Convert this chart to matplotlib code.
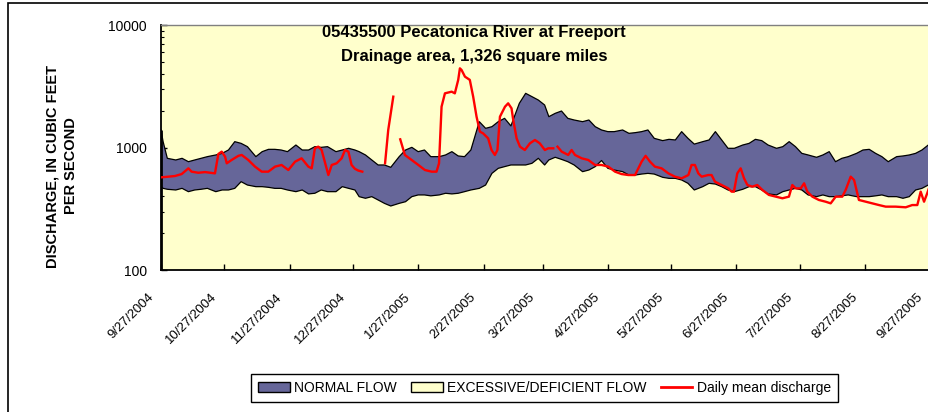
import datetime
import numpy as np
import matplotlib
matplotlib.use("Agg")
import matplotlib.pyplot as plt
from matplotlib.patches import Patch, Rectangle
from matplotlib.lines import Line2D
from matplotlib.ticker import LogLocator, NullFormatter
from matplotlib.transforms import ScaledTranslation

plt.rcParams['font.family'] = ['Liberation Sans', 'DejaVu Sans']

# ---- data (days counted from 9/27/2004, discharge in cfs) ----
start = datetime.date(2004, 9, 27)

band_days = [0, 1, 3, 7, 10, 13, 16, 19, 22, 26, 29, 32, 35, 38, 41, 45, 48, 51, 54, 57,
             60, 64, 67, 70, 73, 76, 79, 83, 86, 89, 92,
             94, 97, 100, 103, 106, 109, 113, 116, 119, 122, 125, 128, 132, 135, 138, 141,
             144, 147, 151, 154, 157, 160, 163, 166, 170, 173, 176, 179, 182,
             184, 187, 190, 193, 196, 200, 203, 206, 209, 212, 215, 219, 222, 225, 228, 231,
             234, 238, 241, 244, 247, 250, 253, 257, 260, 263, 266, 269, 272,
             276, 279, 282, 285, 288, 292, 295, 298, 301, 304, 307, 311, 314, 317, 320, 323,
             326, 330, 333, 336, 339, 342, 345, 349, 352, 355, 358, 361, 364, 368]

band_upper = [1390, 1116, 816, 791, 816, 766, 791, 816, 842, 869, 896, 954, 1116, 1081, 1016,
              842, 925, 966, 966, 954, 925, 1048, 954, 954, 1016, 1003, 1016, 925, 954, 985, 954,
              925, 869, 791, 720, 720, 689, 842, 954, 1003, 925, 954, 842, 842, 869, 925, 853,
              842, 954, 1625, 1434, 1479, 1625, 1730, 1500, 2294, 2768, 2600, 2441, 2223,
              1785, 1900, 1985, 1730, 1677, 1625, 1677, 1479, 1390, 1347, 1347, 1390, 1305, 1322,
              1347, 1390, 1188, 1138, 1166, 1152, 1347, 1188, 1066, 1116, 1152, 1347, 1152, 985, 985,
              1048, 1081, 1166, 1138, 1048, 985, 1016, 1116, 1016, 896, 869, 832, 869, 925, 766,
              816, 842, 896, 954, 966, 896, 842, 766, 842, 853, 869, 896, 954, 1048, 1100]

band_lower = [479, 464, 456, 450, 464, 436, 450, 456, 464, 436, 450, 450, 464, 526, 494, 479,
              479, 473, 464, 464, 450, 436, 450, 418, 423, 450, 436, 436, 479, 464, 450,
              397, 385, 397, 373, 350, 333, 350, 361, 397, 410, 410, 403, 410, 423, 418, 423,
              436, 450, 464, 494, 615, 676, 698, 720, 720, 720, 743, 816, 720,
              791, 832, 800, 766, 720, 635, 655, 698, 783, 676, 655, 635, 596, 596, 607, 615,
              607, 571, 560, 560, 543, 510, 450, 479, 510, 503, 479, 450, 436,
              456, 479, 479, 450, 418, 410, 436, 450, 464, 450, 410, 397, 410, 397, 397, 403,
              410, 397, 397, 397, 403, 410, 397, 397, 385, 397, 450, 464, 494, 500]

flow_days = [0.3, 3.4, 6.6, 9.8, 13.0, 14.5, 17.7, 20.9, 25.6, 27.2, 28.8, 30.4, 31.2, 33.5,
             36.7, 38.3, 41.4, 44.6, 47.8, 50.9, 54.1, 57.2, 60.4, 63.6, 66.7, 69.9, 71.5, 73.0,
             74.6, 76.2, 79.4, 81.0, 83.3, 85.7, 87.3, 88.9, 90.4, 92.0, 93.6, 95.5,
             100.0,
             106.3, 107.8, 110.2,
             112.0,
             113.5, 115.7, 118.9, 122.1, 125.2, 128.4, 130.7, 131.9, 133.1, 134.7, 137.9, 139.4,
             141.0, 141.8, 142.6, 144.2, 146.5, 148.1, 149.7, 151.3, 152.8, 155.2, 156.8, 158.4,
             159.6, 160.8, 163.2, 164.7, 166.3, 167.1, 168.7, 170.3, 172.6, 175.0, 177.4, 179.7,
             182.1, 183.7, 186.1,
             187.0,
             188.1, 190.1, 193.2, 194.8, 196.4, 199.6, 202.7, 205.9, 209.0, 212.2, 215.4, 218.5,
             221.7, 224.9, 228.0, 229.9, 232.0, 234.3, 237.5, 240.7, 243.8, 247.0, 250.2, 251.7,
             253.3, 254.9, 256.5, 259.6, 261.2, 262.8, 266.0, 269.1, 270.7, 271.8, 273.4, 275.0,
             276.6, 278.2, 280.5, 282.9, 285.3, 288.4, 291.6, 294.8, 297.9, 299.5, 301.1, 303.5,
             305.1, 306.6, 309.0, 312.1, 315.3, 317.7, 320.1, 323.2, 324.8, 327.2, 328.8, 330.3,
             331.1, 334.3, 337.5, 340.6, 343.8, 348.5, 353.3, 356.4, 358.8, 360.4, 362.0, 363.5,
             364.3, 367.0]

flow_values = [571, 578, 585, 607, 676, 635, 622, 630, 615, 885, 925, 842, 743, 791,
               855, 869, 791, 698, 635, 635, 698, 720, 655, 766, 816, 698, 676, 985,
               1016, 954, 596, 720, 743, 816, 954, 925, 720, 670, 648, 635,
               np.nan,
               743, 1390, 2600,
               np.nan,
               1166, 869, 791, 720, 655, 635, 635, 743, 2154, 2768, 2856, 2768,
               3565, 4429, 4292, 3786, 3565, 2600, 1785, 1347, 1305, 1188, 954, 869,
               954, 1785, 2154, 2294, 2088, 1677, 1188, 1016, 954, 1081, 1152, 1081,
               954, 985, 985,
               np.nan,
               1016, 925, 869, 954, 869, 816, 791, 720, 720, 698, 635, 607,
               596, 596, 766, 855, 766, 698, 676, 615, 578, 560, 596, 720,
               720, 615, 578, 596, 596, 526, 494, 464, 436, 436, 615, 676,
               560, 494, 479, 494, 450, 410, 397, 385, 397, 494, 464, 464,
               510, 436, 397, 373, 361, 350, 397, 397, 450, 578, 543, 423,
               373, 361, 350, 339, 329, 329, 325, 339, 339, 436, 361, 423,
               464, 433]

tick_labels = ['9/27/2004', '10/27/2004', '11/27/2004', '12/27/2004', '1/27/2005',
               '2/27/2005', '3/27/2005', '4/27/2005', '5/27/2005', '6/27/2005',
               '7/27/2005', '8/27/2005', '9/27/2005']
ytick_values = [100, 1000, 10000]
legend_labels = ['NORMAL FLOW', 'EXCESSIVE/DEFICIENT FLOW', 'Daily mean discharge']

tick_days = []
for s in tick_labels:
    m, d, y = [int(p) for p in s.split('/')]
    tick_days.append((datetime.date(y, m, d) - start).days)

# ---- figure ----
purple = '#666699'
yellow = '#FFFFCC'

fig = plt.figure(figsize=(9.29, 4.12), dpi=100)
fig.patch.set_facecolor('white')
ax = fig.add_axes([161 / 929, 142 / 412, 775.7 / 929, 245 / 412])
ax.set_facecolor(yellow)

ax.fill_between(band_days, band_lower, band_upper, facecolor=purple, edgecolor='none', zorder=2)
ax.plot(band_days, band_upper, color='black', lw=0.9, zorder=3)
ax.plot(band_days, band_lower, color='black', lw=0.9, zorder=3)
ax.vlines(band_days[0], 100, band_upper[0], color='black', lw=2.0, zorder=3)
ax.plot(flow_days, flow_values, color='#FF0000', lw=1.7, zorder=4)

ax.set_yscale('log')
ax.set_ylim(100, 10000)
ax.set_xlim(0, 368)
ax.set_yticks(ytick_values)
ax.set_yticklabels([str(v) for v in ytick_values], fontsize=10)
ax.yaxis.set_minor_locator(LogLocator(base=10, subs=np.arange(2, 10)))
ax.yaxis.set_minor_formatter(NullFormatter())
ax.tick_params(axis='y', which='major', direction='in', length=4, width=1, pad=10)
ax.tick_params(axis='y', which='minor', direction='in', length=2.5, width=0.8)

ax.set_xticks(tick_days)
ax.set_xticklabels(tick_labels, rotation=45, ha='right', va='top', fontsize=9.5)
ax.tick_params(axis='x', which='major', direction='in', length=4, width=1, pad=15)
for lab in ax.get_xticklabels():
    lab.set_transform(lab.get_transform() + ScaledTranslation(-5 / 100, 0, fig.dpi_scale_trans))

for side in ['left', 'bottom']:
    ax.spines[side].set_color('black')
    ax.spines[side].set_linewidth(1.3)
for side in ['top', 'right']:
    ax.spines[side].set_color('#808080')
    ax.spines[side].set_linewidth(1.0)

# titles inside the plot area
fig.text(474 / 929, 1 - 33 / 412, '05435500 Pecatonica River at Freeport',
         ha='center', va='center', fontsize=12, fontweight='bold')
fig.text(474 / 929, 1 - 57 / 412, 'Drainage area, 1,326 square miles',
         ha='center', va='center', fontsize=12, fontweight='bold')

fig.text(62 / 929, 1 - 166 / 412, 'DISCHARGE, IN CUBIC FEET\nPER SECOND',
         rotation=90, ha='center', va='center', multialignment='center',
         fontsize=10.5, fontweight='bold', linespacing=1.45)

handles = [Patch(facecolor=purple, edgecolor='black', lw=1),
           Patch(facecolor=yellow, edgecolor='black', lw=1),
           Line2D([], [], color='#FF0000', lw=2)]
leg = fig.legend(handles, legend_labels, loc='center', bbox_to_anchor=(544.5 / 929, 1 - 388 / 412),
                 ncol=3, fontsize=10, frameon=True, fancybox=False, framealpha=1,
                 edgecolor='black', handlelength=2.3, handleheight=0.8, handletextpad=0.3,
                 columnspacing=1.0, borderpad=0.5)
leg.get_frame().set_linewidth(1.0)

# outer frame of the figure
fig.patches.append(Rectangle((8 / 929, -0.1), 1.2, 1 - 3.3 / 412 + 0.1, transform=fig.transFigure,
                             fill=False, edgecolor='black', lw=1.2))

fig.savefig('out.png', dpi=100)
